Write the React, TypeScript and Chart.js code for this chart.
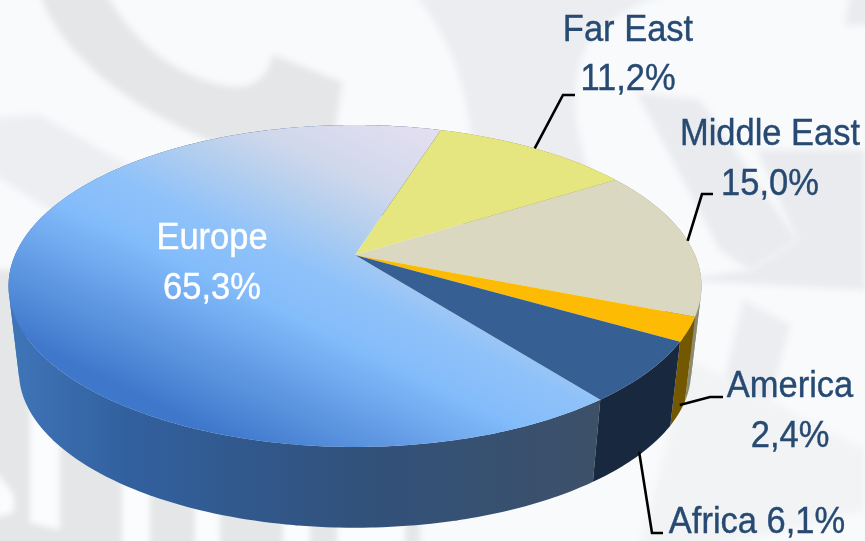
import React, { useEffect, useRef } from "react";
import { Chart, registerables } from "chart.js";

Chart.register(...registerables);

const regions = ["Europe", "Far East", "Middle East", "America", "Africa"];
const shares = [65.3, 11.2, 15.0, 2.4, 6.1];
const shareLabels = ["65,3%", "11,2%", "15,0%", "2,4%", "6,1%"];
const topColors = ["#83bcfb", "#e6e680", "#dbd8c2", "#fdbc03", "#365f94"];
const wallColors = ["#31527c", "#8f8f50", "#8d8a72", "#735800", "#18283e"];

// Projection of the disc: a tilted circle seen in perspective.
const CX = 355;
const CY = 255;
const RX = 340;
const RY = 155;
const PERSP = 0.1926;
const BASE_SCALE = 0.97;
const BASE_DROP = 86.5;

const FONT = '37.7px "Liberation Sans"';
const TEXT_SQUEEZE = 0.915;
const TEXT_DARK = "#274a72";

type Placement = {
  lines: (i: number) => string[];
  x: number;
  y: number[];
  color: string;
  leader?: { depth: number; path: number[][] };
};
const twoLines = (i: number) => [regions[i], shareLabels[i]];
const placements: Placement[] = [
  { lines: twoLines, x: 212, y: [249, 299], color: "#ffffff" },
  { lines: twoLines, x: 628, y: [41, 90], color: TEXT_DARK, leader: { depth: 0, path: [[563, 95], [575, 95]] } },
  { lines: twoLines, x: 770, y: [145, 195], color: TEXT_DARK, leader: { depth: 0, path: [[702, 194], [713, 194]] } },
  { lines: twoLines, x: 790, y: [397, 447], color: TEXT_DARK, leader: { depth: 0.9, path: [[710, 397], [723, 397]] } },
  { lines: (i) => [regions[i] + " " + shareLabels[i]], x: 757, y: [533], color: TEXT_DARK, leader: { depth: 0.96, path: [[652, 533], [663, 533]] } },
];

function rimPoint(angle: number, depth: number): [number, number] {
  const u = Math.cos(angle);
  const v = Math.sin(angle);
  const s = 1 / (1 - PERSP * v);
  const k = 1 + (BASE_SCALE - 1) * depth;
  return [CX + k * RX * u * s, CY + BASE_DROP * depth + k * RY * v * s];
}

function traceRim(ctx: CanvasRenderingContext2D, a0: number, a1: number) {
  const steps = Math.max(2, Math.ceil(Math.abs(a1 - a0) / 0.01));
  for (let i = 0; i <= steps; i++) {
    const [x, y] = rimPoint(a0 + ((a1 - a0) * i) / steps, 0);
    ctx.lineTo(x, y);
  }
}

// The wall is swept as overlapping quads so its outline follows the tangent
// between the top rim and the base rim.
function fillWall(ctx: CanvasRenderingContext2D, a0: number, a1: number) {
  const steps = Math.max(2, Math.ceil((a1 - a0) / 0.01));
  ctx.beginPath();
  for (let i = 0; i < steps; i++) {
    const p = a0 + ((a1 - a0) * i) / steps;
    const q = a0 + ((a1 - a0) * Math.min(steps, i + 2)) / steps;
    const [ax, ay] = rimPoint(p, 0);
    const [bx, by] = rimPoint(q, 0);
    const [cx, cy] = rimPoint(q, 1);
    const [dx, dy] = rimPoint(p, 1);
    ctx.moveTo(ax, ay);
    ctx.lineTo(bx, by);
    ctx.lineTo(cx, cy);
    ctx.lineTo(dx, dy);
    ctx.closePath();
    // each quad is wound the same way, so the whole path can be filled at once
    if (i % 40 === 39) {
      ctx.fill();
      ctx.beginPath();
    }
  }
  ctx.fill();
}

function poly(ctx: CanvasRenderingContext2D, pts: number[][], fill: string) {
  ctx.fillStyle = fill;
  ctx.beginPath();
  pts.forEach(([x, y], i) => (i ? ctx.lineTo(x, y) : ctx.moveTo(x, y)));
  ctx.closePath();
  ctx.fill();
}

// Soft grey machine-part silhouettes behind the pie.
function drawBackdrop(ctx: CanvasRenderingContext2D, w: number, h: number) {
  ctx.save();
  ctx.fillStyle = "#f8fafc";
  ctx.fillRect(0, 0, w, h);
  ctx.filter = "blur(3px)";
  const grey = "#e4e6e8";
  const light = "#fbfcfe";

  ctx.fillStyle = grey;
  ctx.beginPath();
  ctx.moveTo(40, -5);
  ctx.bezierCurveTo(60, 50, 120, 105, 220, 145);
  ctx.lineTo(335, 130);
  ctx.lineTo(342, 82);
  ctx.lineTo(273, 55);
  ctx.quadraticCurveTo(265, 88, 233, 87);
  ctx.bezierCurveTo(180, 80, 135, 45, 107, -5);
  ctx.closePath();
  ctx.fill();

  ctx.fillStyle = "#ebedf0";
  ctx.beginPath();
  ctx.moveTo(415, -5);
  ctx.quadraticCurveTo(470, 60, 472, 160);
  ctx.lineTo(590, 175);
  ctx.quadraticCurveTo(560, 90, 590, 40);
  ctx.quadraticCurveTo(620, 5, 670, -5);
  ctx.closePath();
  ctx.fill();

  poly(ctx, [[637, 93], [700, 100], [797, 240], [750, 270], [720, 250]], "#e9ebee");
  poly(ctx, [[757, 150], [865, 150], [865, 290], [680, 280], [750, 270], [797, 240]], "#e9ebee");
  poly(ctx, [[743, 300], [790, 325], [770, 400], [720, 400]], "#ebedf0");
  poly(ctx, [[850, -5], [870, -5], [870, 25], [845, 25]], "#e9ebee");
  poly(ctx, [[-5, 118], [40, 115], [260, 240], [190, 300], [-5, 175]], "#eceef1");
  poly(ctx, [[-5, 270], [300, 270], [420, 500], [420, 546], [-5, 546]], grey);
  poly(ctx, [[30, 400], [60, 400], [60, 530], [30, 523]], light);
  poly(ctx, [[-5, 470], [14, 495], [14, 512], [-5, 518]], light);
  poly(ctx, [[122, 470], [150, 470], [150, 546], [122, 546]], light);
  poly(ctx, [[195, 500], [220, 500], [220, 546], [195, 546]], light);
  poly(ctx, [[283, 515], [310, 515], [310, 546], [283, 546]], light);
  poly(ctx, [[337, 520], [405, 520], [405, 546], [337, 546]], light);
  poly(ctx, [[690, 360], [865, 450], [865, 510], [720, 546], [640, 546]], "#f1f3f5");
  ctx.restore();
}

function wallFill(ctx: CanvasRenderingContext2D, i: number): string | CanvasGradient {
  if (i !== 0) return wallColors[i];
  const g = ctx.createLinearGradient(10, 0, 600, 0);
  g.addColorStop(0, "#3f75b8");
  g.addColorStop(0.2, "#32609f");
  g.addColorStop(0.58, wallColors[0]);
  g.addColorStop(1, "#3d5068");
  return g;
}

function topFill(ctx: CanvasRenderingContext2D, i: number): string | CanvasGradient {
  if (i !== 0) return topColors[i];
  const g = ctx.createLinearGradient(397, 114, 237, 444);
  g.addColorStop(0, "#e4dff0");
  g.addColorStop(0.2, "#d0d8ec");
  g.addColorStop(0.32, "#b5cfee");
  g.addColorStop(0.48, "#90c2f9");
  g.addColorStop(0.62, topColors[0]);
  g.addColorStop(1, "#3f78cb");
  return g;
}

const tiltedPie = {
  id: "tiltedPie",
  beforeDraw(chart: Chart) {
    drawBackdrop(chart.ctx, chart.width, chart.height);
  },
  beforeDatasetDraw(chart: Chart, args: { index: number }) {
    const ctx = chart.ctx;
    const arcs = chart.getDatasetMeta(args.index).data as any[];

    // side wall first, the top face then hides its far half
    arcs.forEach((arc, i) => {
      ctx.fillStyle = wallFill(ctx, i);
      fillWall(ctx, arc.startAngle, arc.endAngle);
    });

    arcs.forEach((arc, i) => {
      ctx.fillStyle = topFill(ctx, i);
      ctx.beginPath();
      ctx.moveTo(CX, CY);
      traceRim(ctx, arc.startAngle, arc.endAngle);
      ctx.closePath();
      ctx.fill();
    });

    // leader lines leave each slice at its mid angle
    ctx.strokeStyle = "#000000";
    ctx.lineWidth = 2.6;
    ctx.lineJoin = "miter";
    placements.forEach((p, i) => {
      if (!p.leader) return;
      const mid = (arcs[i].startAngle + arcs[i].endAngle) / 2;
      const [sx, sy] = rimPoint(mid, p.leader.depth);
      ctx.beginPath();
      ctx.moveTo(sx, sy);
      p.leader.path.forEach(([x, y]) => ctx.lineTo(x, y));
      ctx.stroke();
    });

    ctx.font = FONT;
    ctx.textAlign = "center";
    ctx.textBaseline = "alphabetic";
    ctx.lineWidth = 0.4;
    placements.forEach((p, i) => {
      ctx.fillStyle = p.color;
      ctx.strokeStyle = p.color;
      p.lines(i).forEach((line, n) => {
        ctx.save();
        ctx.translate(p.x, p.y[n]);
        ctx.scale(TEXT_SQUEEZE, 1);
        ctx.fillText(line, 0, 0);
        ctx.strokeText(line, 0, 0);
        ctx.restore();
      });
    });
    return false;
  },
};

export default function App() {
  const ref = useRef<HTMLCanvasElement>(null);
  useEffect(() => {
    const chart = new Chart(ref.current!, {
      type: "pie",
      data: {
        labels: regions,
        datasets: [{ data: shares, backgroundColor: topColors, borderWidth: 0 }],
      },
      options: {
        responsive: false,
        animation: false,
        rotation: 142.3,
        plugins: { legend: { display: false }, tooltip: { enabled: false } },
      },
      plugins: [tiltedPie as any],
    });
    return () => chart.destroy();
  }, []);
  return (
    <div style={{ position: "fixed", inset: 0, overflow: "hidden" }}>
      <canvas ref={ref} width={865} height={541} style={{ display: "block" }} />
    </div>
  );
}
